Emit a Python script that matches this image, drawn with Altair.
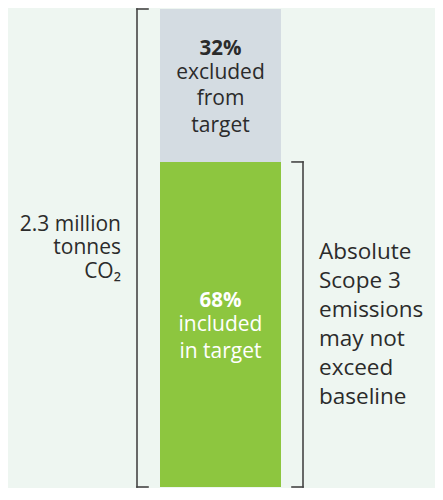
import altair as alt
import pandas as pd

# ---- data ----
segments = ["included in target", "excluded from target"]
shares = [68, 32]
seg_colors = ["#8DC63F", "#D4DCE2"]
pct_labels = ["68%", "32%"]
desc_labels = ["included\nin target", "excluded\nfrom\ntarget"]
label_colors = ["#FFFFFF", "#2B2B2B"]
total_label = "2.3 million\ntonnes\nCO₂"
note_label = "Absolute\nScope 3\nemissions\nmay not\nexceed\nbaseline"

# ---- layout constants ----
W, H = 427, 480
Y_BOT, Y_TOP = H - 1, 1
K = (Y_BOT - Y_TOP) / 492.0          # vertical compression vs. reference
BAR_X0, BAR_X1 = 152, 273
BAR_XC = (BAR_X0 + BAR_X1) / 2
LB_X, LB_TICK = 129, 140
RB_X, RB_TICK = 295, 284
FONT = "Open Sans"
BG = "#EEF6F1"
INK = "#2B2B2B"
BRACKET = "#454545"

starts, acc = [], 0
for s in shares:
    starts.append(acc)
    acc += s
total = acc
inc_end = shares[0]
bars = pd.DataFrame({
    "segment": segments,
    "start": starts,
    "end": [a + s for a, s in zip(starts, shares)],
    "mid": [a + s / 2 for a, s in zip(starts, shares)],
    "pct": pct_labels,
    "desc": desc_labels,
    "x0": BAR_X0, "x1": BAR_X1, "xc": BAR_XC,
})

xs = alt.Scale(domain=[0, W], range=[0, W], nice=False, zero=False)
ys = alt.Scale(domain=[0, total], range=[Y_BOT, Y_TOP], nice=False, zero=False)

rects = alt.Chart(bars).mark_rect().encode(
    x=alt.X("x0:Q", scale=xs, axis=None),
    x2="x1:Q",
    y=alt.Y("start:Q", scale=ys, axis=None),
    y2="end:Q",
    color=alt.Color("segment:N", scale=alt.Scale(domain=segments, range=seg_colors), legend=None),
)

green = bars[bars.segment == segments[0]]
gray = bars[bars.segment == segments[1]]


def block_dy(first, n, lh):
    """first-line baseline offset keeping the block centre scaled by K"""
    centre = first + (n - 1) * lh / 2
    return centre * K - (n - 1) * lh / 2


def seg_labels(df, color, pct_dy, desc_dy, lh, n):
    enc = dict(x=alt.X("xc:Q", scale=xs), y=alt.Y("mid:Q", scale=ys))
    pct = alt.Chart(df).mark_text(
        font=FONT, fontSize=20.5, fontWeight="bold", color=color,
        align="center", baseline="alphabetic", dy=pct_dy * K,
    ).encode(text="pct:N", **enc)
    desc = alt.Chart(df).mark_text(
        font=FONT, fontSize=21, color=color, align="center", baseline="alphabetic",
        lineBreak="\n", lineHeight=lh, dy=block_dy(desc_dy, n, lh),
    ).encode(text="desc:N", **enc)
    return pct + desc


gray_lbl = seg_labels(gray, label_colors[1], -31.7, -6.4, 26.7, 3)
green_lbl = seg_labels(green, label_colors[0], -18.4, 7.3, 27, 2)

brk = pd.DataFrame({
    "x": [LB_X, LB_X, LB_X, RB_X, RB_X, RB_X],
    "x2": [LB_X, LB_TICK, LB_TICK, RB_X, RB_TICK, RB_TICK],
    "y": [0, total, 0, 0, inc_end, 0],
    "y2": [total, total, 0, inc_end, inc_end, 0],
})
brackets = alt.Chart(brk).mark_rule(color=BRACKET, strokeWidth=1.6, strokeCap="square").encode(
    x=alt.X("x:Q", scale=xs), x2="x2:Q",
    y=alt.Y("y:Q", scale=ys), y2="y2:Q",
)

side = pd.DataFrame({
    "text": [total_label, note_label],
    "x": [113, 311],
    "y": [total / 2, inc_end / 2],
})
left_txt = alt.Chart(side.iloc[[0]]).mark_text(
    font=FONT, fontSize=21, color=INK, align="right", baseline="alphabetic",
    lineBreak="\n", lineHeight=23.5, dy=block_dy(-17, 3, 23.5),
).encode(x=alt.X("x:Q", scale=xs), y=alt.Y("y:Q", scale=ys), text="text:N")
right_txt = alt.Chart(side.iloc[[1]]).mark_text(
    font=FONT, fontSize=22.5, color=INK, align="left", baseline="alphabetic",
    lineBreak="\n", lineHeight=29, dy=block_dy(-65.7, 6, 29),
).encode(x=alt.X("x:Q", scale=xs), y=alt.Y("y:Q", scale=ys), text="text:N")

chart = alt.layer(rects, brackets, gray_lbl, green_lbl, left_txt, right_txt).properties(
    width=W, height=H, background=BG, padding=0,
    autosize=alt.AutoSizeParams(type="none"),
).configure_view(stroke=None)

chart.save("out.html", embed_options={"renderer": "svg", "actions": False})
